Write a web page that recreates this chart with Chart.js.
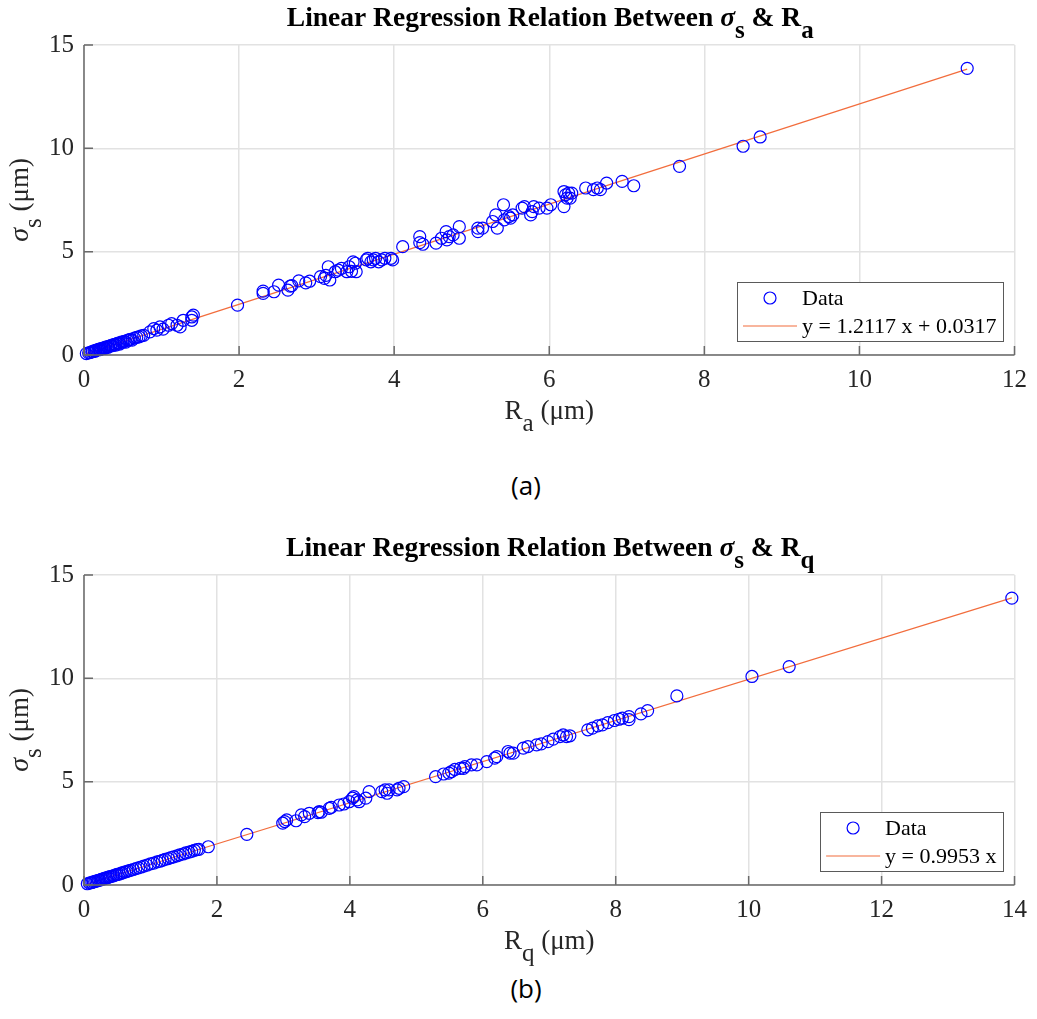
<!DOCTYPE html>
<html>
<head>
<meta charset="utf-8">
<script src="https://cdn.jsdelivr.net/npm/chart.js@4.4.1/dist/chart.umd.min.js"></script>
<style>
  html, body { margin: 0; padding: 0; background: #ffffff; }
  body { width: 1037px; height: 1019px; position: relative; overflow: hidden; }
  canvas { position: absolute; left: 0; }
  #cA { top: 0; }
  #cB { top: 530px; }
  .cap { position: absolute; width: 100px; text-align: center; left: 476px;
         font-family: 'Open Sans', 'Noto Sans', sans-serif; font-size: 26px; color: #000; line-height: 1; }
</style>
</head>
<body>
<canvas id="cA" width="1037" height="440"></canvas>
<canvas id="cB" width="1037" height="440"></canvas>
<div class="cap" style="top:472px;">(a)</div>
<div class="cap" style="top:975px;">(b)</div>
<script>
// ---------- Data: panel (a) sigma_s vs R_a ----------
const raValues = [0.03,0.06,0.08,0.10,0.11,0.13,0.14,0.15,0.16,0.18,0.19,0.20,0.21,0.22,0.23,0.25,0.26,0.27,0.28,0.30,
  0.31,0.32,0.34,0.35,0.37,0.38,0.40,0.41,0.43,0.45,0.46,0.48,0.50,0.52,0.54,0.56,0.58,0.60,0.62,0.65,0.68,0.71,0.74,0.77,
  0.85,0.90,0.94,0.98,1.02,1.09,1.13,1.20,1.24,1.28,1.39,1.41,1.39,
  1.98,2.31,2.31,2.45,2.51,2.63,2.66,2.68,2.77,2.86,2.91,
  3.05,3.10,3.15,3.17,3.12,3.24,3.28,3.32,3.39,3.42,3.47,3.50,3.51,3.45,
  3.64,3.66,3.70,3.73,3.76,3.80,3.84,3.88,3.96,3.98,
  4.11,4.33,4.33,4.37,4.54,4.61,4.67,4.68,4.71,4.76,4.84,4.84,
  5.08,5.08,5.14,5.27,5.31,5.33,5.41,5.42,5.48,5.50,5.53,
  5.65,5.68,5.76,5.78,5.80,5.87,5.97,6.02,6.19,6.19,6.21,6.23,6.25,6.27,6.29,6.47,6.57,6.62,6.66,6.74,6.94,7.09,
  7.68,8.50,8.72,11.39];
const sigmaA = [0.07,0.10,0.12,0.15,0.17,0.20,0.18,0.21,0.24,0.25,0.27,0.28,0.26,0.30,0.31,0.33,0.35,0.32,0.38,0.40,
  0.37,0.42,0.44,0.46,0.45,0.50,0.52,0.48,0.56,0.58,0.53,0.62,0.63,0.66,0.62,0.71,0.73,0.76,0.72,0.82,0.85,0.88,0.93,0.95,
  1.12,1.28,1.20,1.36,1.25,1.44,1.52,1.44,1.36,1.68,1.84,1.93,1.68,
  2.41,2.98,3.09,3.06,3.38,3.14,3.33,3.36,3.59,3.49,3.57,
  3.79,3.71,4.27,3.63,3.85,4.03,4.11,4.19,4.03,4.27,4.51,4.44,4.03,4.05,
  4.60,4.68,4.51,4.60,4.68,4.51,4.60,4.68,4.68,4.60,
  5.24,5.73,5.44,5.36,5.41,5.65,5.97,5.57,5.73,5.81,6.21,5.65,
  6.14,5.97,6.14,6.46,6.78,6.14,7.27,6.54,6.70,6.62,6.78,
  7.11,7.18,6.78,6.94,7.18,7.11,7.11,7.27,7.18,7.91,7.75,7.59,7.83,7.59,7.83,8.08,8.00,8.08,8.00,8.32,8.40,8.19,
  9.13,10.10,10.55,13.87];
const fitA = [1.2117, 0.0317];          // slope, intercept
const xTicksA = [0, 2, 4, 6, 8, 10, 12];
const yTicks = [0, 5, 10, 15];
const legendA = ['Data', 'y = 1.2117 x + 0.0317'];

// ---------- Data: panel (b) sigma_s vs R_q ----------
const rqValues = [0.05,0.08,0.10,0.12,0.14,0.16,0.18,0.20,0.22,0.24,0.26,0.28,0.30,0.32,0.34,0.36,0.38,0.40,0.43,0.45,
  0.48,0.50,0.53,0.56,0.58,0.61,0.64,0.67,0.70,0.74,0.78,0.82,0.86,0.90,0.95,1.00,1.05,1.10,1.14,1.18,1.22,1.27,1.31,1.35,
  1.40,1.44,1.49,1.53,1.58,1.62,1.66,1.70,1.73,1.87,
  2.45,
  2.99,3.02,3.05,3.19,3.27,3.32,3.39,3.52,3.54,3.57,
  3.69,3.72,3.84,3.91,3.99,4.04,4.06,4.11,4.14,4.24,4.29,
  4.48,4.53,4.56,4.59,4.71,4.74,4.81,
  5.29,5.41,5.49,5.53,5.58,5.66,5.71,5.73,5.83,5.91,6.06,6.18,6.21,6.38,6.41,6.46,
  6.61,6.68,6.81,6.88,6.98,7.06,7.16,7.21,7.26,7.31,7.58,7.65,7.73,7.80,7.88,7.98,8.05,8.10,8.20,8.20,8.38,8.48,8.92,
  10.05,10.61,13.96];
const sigmaB = [0.06,0.09,0.11,0.12,0.15,0.16,0.19,0.20,0.23,0.24,0.27,0.28,0.31,0.33,0.34,0.37,0.39,0.41,0.43,0.46,
  0.49,0.51,0.53,0.57,0.59,0.62,0.65,0.68,0.71,0.75,0.79,0.83,0.87,0.91,0.96,1.02,1.06,1.12,1.15,1.19,1.24,1.28,1.33,1.36,
  1.41,1.46,1.50,1.55,1.59,1.63,1.68,1.71,1.72,1.85,
  2.45,
  2.99,3.07,3.15,3.11,3.39,3.31,3.47,3.50,3.55,3.52,
  3.71,3.76,3.87,3.92,4.03,4.20,4.28,4.12,4.03,4.20,4.52,
  4.52,4.60,4.44,4.60,4.60,4.68,4.76,
  5.24,5.37,5.41,5.49,5.59,5.64,5.64,5.73,5.81,5.81,5.97,6.14,6.21,6.46,6.38,6.38,
  6.62,6.70,6.78,6.83,6.94,7.06,7.18,7.26,7.18,7.22,7.51,7.59,7.70,7.75,7.86,7.96,8.02,8.07,8.15,8.00,8.28,8.44,9.15,
  10.09,10.57,13.88];
const fitB = [0.9953, 0];
const xTicksB = [0, 2, 4, 6, 8, 10, 12, 14];
const legendB = ['Data', 'y = 0.9953 x'];

// ---------- styling ----------
const SERIF = "'Liberation Serif', 'Times New Roman', Times, serif";
const TICK_COLOR = '#262626';
const GRID_COLOR = '#e2e2e2';
const AXIS_COLOR = '#6a6a6a';
const MARK_COLOR = '#0000ff';
const FIT_COLOR = '#f26d3d';

function richText(ctx, segs, x, y, rotate) {
  ctx.save();
  ctx.translate(x, y);
  if (rotate) ctx.rotate(-Math.PI / 2);
  let w = 0;
  segs.forEach(s => { ctx.font = s.font; w += ctx.measureText(s.text).width; });
  let cx = -w / 2;
  ctx.textBaseline = 'alphabetic';
  ctx.textAlign = 'left';
  segs.forEach(s => {
    ctx.font = s.font;
    ctx.fillStyle = s.color || '#000';
    ctx.fillText(s.text, cx, s.dy || 0);
    cx += ctx.measureText(s.text).width;
  });
  ctx.restore();
}

function makeChart(canvasId, xs, ys, fit, xTicks, legendTexts, sub) {
  const pts = xs.map((x, i) => ({ x: x, y: ys[i] }));
  const xMin = Math.min(...xs), xMax = Math.max(...xs);
  const fitPts = [xMin, xMax].map(x => ({ x: x, y: fit[0] * x + fit[1] }));
  const xMaxTick = xTicks[xTicks.length - 1];

  const decor = {
    id: 'decor',
    afterDatasetsDraw(chart) {
      const ctx = chart.ctx;
      const a = chart.chartArea;
      const xs_ = chart.scales.x, ys_ = chart.scales.y;
      ctx.save();
      ctx.strokeStyle = AXIS_COLOR;
      ctx.lineWidth = 1.5;
      ctx.beginPath();
      ctx.moveTo(a.left, a.top);
      ctx.lineTo(a.left, a.bottom);
      ctx.lineTo(a.right, a.bottom);
      ctx.stroke();
      ctx.beginPath();
      xTicks.forEach(t => {
        const px = xs_.getPixelForValue(t);
        ctx.moveTo(px, a.bottom);
        ctx.lineTo(px, a.bottom - 9);
      });
      yTicks.forEach(t => {
        const py = ys_.getPixelForValue(t);
        ctx.moveTo(a.left, py);
        ctx.lineTo(a.left + 9, py);
      });
      ctx.stroke();
      ctx.restore();
    },
    afterDraw(chart) {
      const ctx = chart.ctx;
      const a = chart.chartArea;
      const cx = (a.left + a.right) / 2;
      // title
      richText(ctx, [
        { text: 'Linear Regression Relation Between ', font: 'bold 27.5px ' + SERIF },
        { text: 'σ', font: 'italic bold 27.5px ' + SERIF },
        { text: 's', font: 'bold 25px ' + SERIF, dy: 12 },
        { text: ' & R', font: 'bold 27.5px ' + SERIF },
        { text: sub, font: 'bold 25px ' + SERIF, dy: 12 }
      ], cx + 1, a.top - 19, false);
      // x label
      richText(ctx, [
        { text: 'R', font: '27px ' + SERIF, color: TICK_COLOR },
        { text: sub, font: '25px ' + SERIF, dy: 12, color: TICK_COLOR },
        { text: ' (μm)', font: '27px ' + SERIF, color: TICK_COLOR }
      ], cx, a.bottom + 64, false);
      // y label
      richText(ctx, [
        { text: 'σ', font: 'italic 28px ' + SERIF, color: TICK_COLOR },
        { text: 's', font: '25px ' + SERIF, dy: 13, color: TICK_COLOR },
        { text: ' (μm)', font: '27px ' + SERIF, color: TICK_COLOR }
      ], 28, (a.top + a.bottom) / 2, true);

      // legend
      ctx.save();
      ctx.font = '22px ' + SERIF;
      const tw = Math.max(ctx.measureText(legendTexts[0]).width, ctx.measureText(legendTexts[1]).width);
      const bw = 6 + 54 + 5 + tw + 7;
      const bh = 59;
      const right = a.right - 11, bottom = a.bottom - 14;
      const left = right - bw, top = bottom - bh;
      ctx.fillStyle = '#ffffff';
      ctx.fillRect(left, top, bw, bh);
      ctx.strokeStyle = '#5a5a5a';
      ctx.lineWidth = 1;
      ctx.strokeRect(Math.round(left) + 0.5, Math.round(top) + 0.5, Math.round(bw), bh);
      const r1 = top + 16, r2 = top + 44;
      ctx.strokeStyle = MARK_COLOR;
      ctx.lineWidth = 1.2;
      ctx.beginPath();
      ctx.arc(left + 6 + 27, r1, 6, 0, Math.PI * 2);
      ctx.stroke();
      ctx.strokeStyle = FIT_COLOR;
      ctx.lineWidth = 1.2;
      ctx.beginPath();
      ctx.moveTo(left + 6, r2);
      ctx.lineTo(left + 60, r2);
      ctx.stroke();
      ctx.fillStyle = '#000';
      ctx.textBaseline = 'middle';
      ctx.textAlign = 'left';
      ctx.fillText(legendTexts[0], left + 65, r1 + 1);
      ctx.fillText(legendTexts[1], left + 65, r2 + 1);
      ctx.restore();
    }
  };

  return new Chart(document.getElementById(canvasId), {
    type: 'scatter',
    data: {
      datasets: [
        {
          label: legendTexts[0],
          data: pts,
          showLine: false,
          pointStyle: 'circle',
          pointRadius: 6,
          pointBorderWidth: 1.2,
          pointBorderColor: MARK_COLOR,
          pointBackgroundColor: 'rgba(0,0,0,0)',
          clip: false,
          order: 1
        },
        {
          label: legendTexts[1],
          data: fitPts,
          showLine: true,
          borderColor: FIT_COLOR,
          borderWidth: 1.2,
          pointRadius: 0,
          fill: false,
          clip: false,
          order: 2
        }
      ]
    },
    options: {
      responsive: false,
      animation: false,
      devicePixelRatio: 1,
      layout: { padding: { left: 0, right: 18, top: 45, bottom: 0 } },
      plugins: { legend: { display: false }, tooltip: { enabled: false }, title: { display: false } },
      scales: {
        x: {
          type: 'linear',
          min: 0, max: xMaxTick,
          afterBuildTicks: s => { s.ticks = xTicks.map(v => ({ value: v })); },
          afterFit: s => { s.height = 85; },
          ticks: {
            color: TICK_COLOR, font: { family: SERIF, size: 25 }, padding: 10,
            maxRotation: 0, autoSkip: false, callback: v => String(v)
          },
          grid: { color: GRID_COLOR, lineWidth: 1.5, drawTicks: false },
          border: { display: false }
        },
        y: {
          type: 'linear',
          min: 0, max: 15,
          afterBuildTicks: s => { s.ticks = yTicks.map(v => ({ value: v })); },
          afterFit: s => { s.width = 84; },
          ticks: {
            color: TICK_COLOR, font: { family: SERIF, size: 25 }, padding: 10,
            autoSkip: false, callback: v => String(v)
          },
          grid: { color: GRID_COLOR, lineWidth: 1.5, drawTicks: false },
          border: { display: false }
        }
      }
    },
    plugins: [decor]
  });
}

makeChart('cA', raValues, sigmaA, fitA, xTicksA, legendA, 'a');
makeChart('cB', rqValues, sigmaB, fitB, xTicksB, legendB, 'q');
</script>
</body>
</html>
